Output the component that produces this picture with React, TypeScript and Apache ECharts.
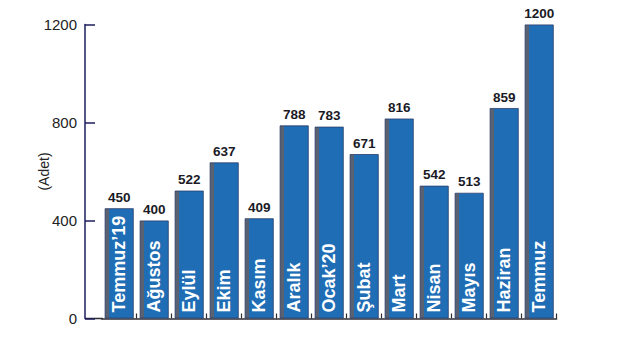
import React, { useEffect, useRef } from "react";
import * as echarts from "echarts";

const categories = [
  "Temmuz’19", "Ağustos", "Eylül", "Ekim", "Kasım", "Aralık", "Ocak’20",
  "Şubat", "Mart", "Nisan", "Mayıs", "Haziran", "Temmuz",
];
const values = [450, 400, 522, 637, 409, 788, 783, 671, 816, 542, 513, 859, 1200];
const yTicks = { min: 0, max: 1200, interval: 400 };
const yName = "(Adet)";

const FONT = "'Liberation Sans', Arial, Helvetica, sans-serif";

export default function App() {
  const ref = useRef<HTMLDivElement>(null);
  useEffect(() => {
    document.body.style.margin = "0";
    if (!ref.current) return;
    const chart = echarts.init(ref.current, undefined, { renderer: "svg" });
    const gridLeft = 101.7;
    const gridRight = 69.3;
    const gridTop = 24.5;
    const gridBottom = 18.5;
    const axisX = 85;
    chart.setOption({
      animation: false,
      backgroundColor: "#ffffff",
      textStyle: { fontFamily: FONT },
      grid: { left: gridLeft, right: gridRight, top: gridTop, bottom: gridBottom },
      xAxis: {
        type: "category",
        data: categories,
        boundaryGap: true,
        axisLine: { show: true, lineStyle: { color: "#2b2b33", width: 1.5 } },
        axisTick: {
          show: true,
          inside: true,
          length: 5,
          interval: (i: number) => i > 0,
          lineStyle: { color: "#2b2b33", width: 1.2 },
        },
        axisLabel: { show: false },
        splitLine: { show: false },
      },
      yAxis: {
        type: "value",
        min: yTicks.min,
        max: yTicks.max,
        interval: yTicks.interval,
        offset: gridLeft - axisX,
        name: yName,
        nameLocation: "middle",
        nameRotate: 90,
        nameGap: 34,
        nameMoveOverlap: false,
        nameTextStyle: { fontSize: 14, color: "#222", fontFamily: FONT },
        axisLine: { show: true, lineStyle: { color: "#1c1c5e", width: 1.5 } },
        axisTick: { show: true, inside: true, length: 10, lineStyle: { color: "#1c1c5e", width: 1.5 } },
        axisLabel: {
          fontSize: 15,
          color: "#222",
          margin: 8,
          fontFamily: FONT,
          formatter: (v: number) => String(v),
        },
        splitLine: { show: false },
      },
      graphic: [
        {
          type: "line",
          shape: { x1: axisX, y1: 337 - gridBottom, x2: gridLeft + 1, y2: 337 - gridBottom },
          style: { stroke: "#2b2b33", lineWidth: 1.5 },
          silent: true,
        },
      ],
      series: [
        {
          type: "bar",
          data: values,
          barWidth: 29,
          itemStyle: {
            color: new echarts.graphic.LinearGradient(0, 0, 1, 0, [
              { offset: 0, color: "#5a6170" },
              { offset: 0.13, color: "#5a6170" },
              { offset: 0.13, color: "#1f6db5" },
              { offset: 1, color: "#1f6db5" },
            ]),
            borderColor: "#2a3d6c",
            borderWidth: 0.8,
          },
          label: {
            show: true,
            position: "top",
            distance: 4,
            fontSize: 13.5,
            fontWeight: "bold",
            color: "#1a1a26",
            fontFamily: FONT,
          },
        },
        {
          type: "bar",
          data: values,
          barWidth: 29,
          barGap: "-100%",
          silent: true,
          itemStyle: { color: "rgba(0,0,0,0)" },
          label: {
            show: true,
            position: "insideBottom",
            rotate: 90,
            align: "left",
            verticalAlign: "middle",
            distance: 6,
            formatter: "{b}",
            color: "#ffffff",
            fontSize: 18,
            fontWeight: "bold",
            fontFamily: FONT,
          },
        },
      ],
    });
    return () => chart.dispose();
  }, []);
  return <div ref={ref} style={{ width: 626, height: 337 }} />;
}
